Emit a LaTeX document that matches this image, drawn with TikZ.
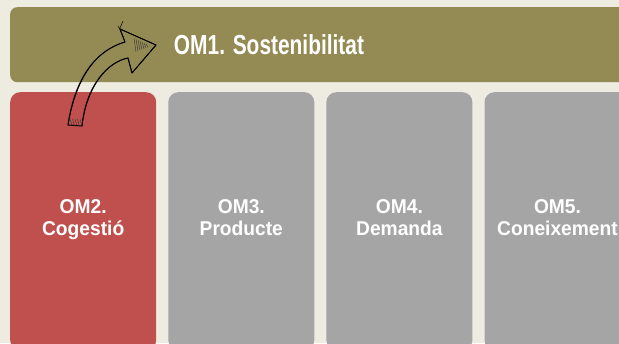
\documentclass[tikz,border=0pt]{standalone}
\usepackage{fontspec}
\newfontfamily\titlefont[FakeStretch=0.76]{Liberation Sans}
\newfontfamily\boxfont[FakeStretch=0.96]{Liberation Sans}
\usetikzlibrary{positioning}

\definecolor{paper}{HTML}{EEECE1}
\definecolor{omolive}{HTML}{948A54}
\definecolor{omred}{HTML}{C0504D}
\definecolor{omgray}{HTML}{A5A5A5}

\begin{document}
\begin{tikzpicture}[x=1pt,y=-1pt,
    band/.style={rectangle, rounded corners=7pt, fill=omolive, minimum width=640pt, minimum height=75pt, inner sep=0pt},
    title/.style={text=white, font=\titlefont\bfseries\fontsize{27.5}{30}\selectfont},
    om/.style={rectangle, rounded corners=10pt, minimum width=146pt, minimum height=258pt, inner sep=0pt, text=white, align=center, font=\boxfont\bfseries\fontsize{20}{22}\selectfont, execute at end node=\strut},
    sketch/.style={draw=black, line width=1pt, line join=round, line cap=round},
    hatch/.style={draw=black!80, line width=0.4pt}]
  \useasboundingbox (0,0) rectangle (619,343);
  \clip (0,0) rectangle (619,343);
  \fill[paper] (0,0) rectangle (619,343);

  % top band
  \node[band, anchor=north west] (om_1) at (10,7) {};
  \node[title] (om_1_text) at ([xshift=259pt]om_1.west) {OM1. Sostenibilitat};

  % lower boxes
  \node[om, fill=omred, anchor=north west] (om_2) at (10,92) {OM2.\\Cogesti\'o};
  \node[om, fill=omgray] (om_3) [right=11.7pt of om_2] {OM3.\\Producte};
  \node[om, fill=omgray] (om_4) [right=11.7pt of om_3] {OM4.\\Demanda};
  \node[om, fill=omgray] (om_5) [right=11.7pt of om_4] {OM5.\\Coneixement};

  % hand drawn arrow from OM2 up to OM1
  \coordinate (tail_a) at (68,125);
  \coordinate (tail_b) at (82,126);
  \coordinate (head_in_a) at (125,42);
  \coordinate (head_out_a) at (120,29);
  \coordinate (tip) at (156,45);
  \coordinate (head_out_b) at (132,73);
  \coordinate (head_in_b) at (128,58);
  \path[sketch]
    (tail_a) .. controls (73,90) and (88,53) .. (head_in_a) -- (head_out_a) -- (tip)
    -- (head_out_b) -- (head_in_b) .. controls (108,62) and (86,85) .. (tail_b) -- cycle;
  \path[sketch, line width=0.6pt, shift={(1.3,-0.9)}]
    (tail_a) .. controls (73,90) and (88,53) .. (head_in_a) -- (head_out_a) -- (tip)
    -- (head_out_b) -- (head_in_b) .. controls (108,62) and (86,85) .. (tail_b);
  \path[sketch, line width=0.5pt] (118,26) -- (121,31) (123,21) -- (120,28);
  % shading strokes
  \foreach \i in {0,...,6}
    \path[hatch] (134+2*\i,38+\i) -- (136+2*\i,52-0.8*\i);
  \foreach \i in {0,...,4}
    \path[hatch] (70+2.5*\i,119) -- (72+2.5*\i,126);
\end{tikzpicture}
\end{document}
